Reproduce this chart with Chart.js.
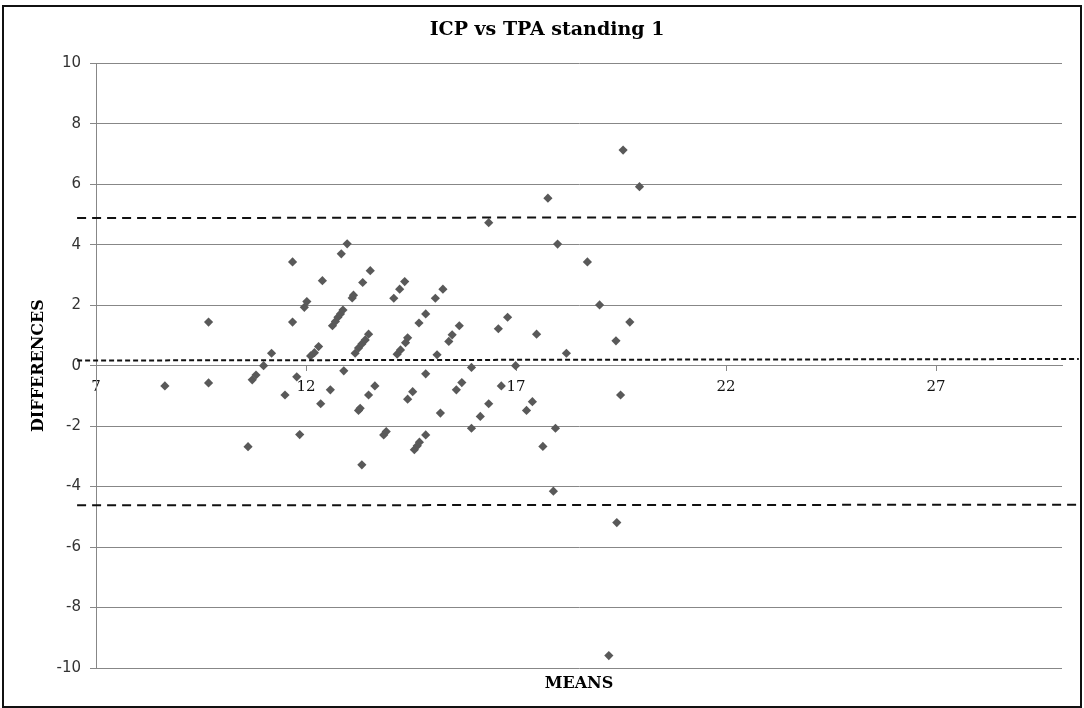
<!DOCTYPE html>
<html><head><meta charset="utf-8">
<script src="https://cdn.jsdelivr.net/npm/chart.js@4.4.1/dist/chart.umd.min.js"></script>
<style>html,body{margin:0;padding:0;background:#fff;} #wrap{position:relative;width:1084px;height:708px;}</style>
</head><body><div id="wrap"><canvas id="c" width="1084" height="708"></canvas></div>
<script>
const chartTitle = 'ICP vs TPA standing 1';
const xAxisTitle = 'MEANS';
const yAxisTitle = 'DIFFERENCES';

const means = [8.64, 9.68, 9.68, 10.62, 10.72, 10.81, 10.99, 11.18, 11.5, 11.68,
  11.68, 11.78, 11.85, 11.96, 12.02, 12.11, 12.2, 12.3, 12.35, 12.39,
  12.58, 12.63, 12.7, 12.76, 12.82, 12.88, 12.84, 12.98, 12.9, 13.1,
  13.13, 13.35, 13.53, 13.17, 13.25, 13.33, 13.41, 13.49, 13.25, 13.29,
  13.33, 13.49, 13.64, 13.85, 13.91, 14.09, 14.23, 14.35, 14.17, 14.25,
  14.37, 14.42, 14.42, 14.54, 14.58, 14.65, 14.7, 14.85, 14.69, 14.85,
  14.85, 15.08, 15.26, 15.12, 15.2, 15.4, 15.48, 15.65, 15.58, 15.71,
  15.94, 15.94, 16.15, 16.35, 16.35, 16.58, 16.8, 16.65, 16.99, 17.25,
  17.39, 17.49, 17.64, 17.76, 17.94, 17.89, 17.99, 18.2, 18.7, 18.99,
  19.38, 19.4, 19.21, 19.49, 19.55, 19.71, 19.94];
const differences = [-0.67, 1.44, -0.57, -2.68, -0.47, -0.31, 0.0, 0.41, -0.97, 3.43,
  1.44, -0.37, -2.28, 1.93, 2.12, 0.32, 0.43, 0.63, -1.26, 2.81,
  -0.8, 1.32, 1.46, 1.6, 1.71, 1.84, 3.7, 4.03, -0.17, 2.24,
  2.33, 2.75, 3.14, 0.41, 0.58, 0.72, 0.85, 1.04, -1.48, -1.41,
  -3.28, -0.97, -0.67, -2.29, -2.18, 2.23, 2.53, 2.78, 0.38, 0.52,
  0.76, 0.92, -1.11, -0.86, -2.78, -2.65, -2.53, -2.29, 1.41, 1.71,
  -0.27, 2.23, 2.53, 0.36, -1.57, 0.8, 1.02, 1.32, -0.8, -0.56,
  -0.06, -2.07, -1.68, -1.26, 4.73, 1.22, 1.6, -0.67, 0.0, -1.48,
  -1.19, 1.04, -2.67, 5.54, -2.07, -4.15, 4.02, 0.41, 3.43, 2.01,
  0.82, -5.19, -9.59, -0.97, 7.13, 1.44, 5.92];

const xTickValues = [7, 12, 17, 22, 27];
const xRange = [7, 30];
const yRange = [-10, 10];
const yStep = 2;

const limitSpanX = [6.55, 30.4];
const upperLimit = [4.88, 4.92];
const meanLine = [0.17, 0.22];
const lowerLimit = [-4.62, -4.6];

const toPts = (xs, ys) => xs.map((x, i) => ({x: x, y: ys[i]}));

const extrasPlugin = {
  id: 'extras',
  beforeDraw(chart) {
    const ctx = chart.ctx;
    ctx.save();
    ctx.fillStyle = '#ffffff';
    ctx.fillRect(0, 0, chart.width, chart.height);
    ctx.restore();
  },
  afterDraw(chart) {
    const ctx = chart.ctx;
    const a = chart.chartArea;
    ctx.save();
    ctx.font = 'bold 16px "DejaVu Serif"';
    ctx.fillStyle = '#000';
    ctx.textAlign = 'center';
    ctx.textBaseline = 'middle';
    ctx.fillText(xAxisTitle, (a.left + a.right) / 2, 684);
    ctx.strokeStyle = '#111';
    ctx.lineWidth = 2;
    ctx.strokeRect(3, 6, 1078, 701);
    ctx.restore();
  }
};

const dashed = (data, dash) => ({
  type: 'scatter',
  data: data,
  showLine: true,
  borderColor: '#111111',
  borderWidth: 2,
  borderDash: dash,
  pointRadius: 0,
  clip: false,
  order: 0
});

new Chart(document.getElementById('c'), {
  type: 'scatter',
  data: {
    datasets: [
      {
        data: toPts(means, differences),
        pointStyle: 'rectRot',
        pointRadius: 4.6,
        borderWidth: 0,
        backgroundColor: '#595959',
        borderColor: '#595959',
        order: 1
      },
      dashed(toPts(limitSpanX, upperLimit), [9, 6]),
      dashed(toPts(limitSpanX, meanLine), [5, 3]),
      dashed(toPts(limitSpanX, lowerLimit), [9, 6])
    ]
  },
  options: {
    responsive: false,
    animation: false,
    devicePixelRatio: 1,
    layout: {padding: {left: 32, right: 22, top: 0, bottom: 40}},
    plugins: {
      legend: {display: false},
      tooltip: {enabled: false},
      title: {
        display: true,
        text: chartTitle,
        color: '#000',
        font: {family: '"DejaVu Serif"', size: 19, weight: 'bold', lineHeight: 1.2},
        padding: {top: 18.6, bottom: 21.9}
      }
    },
    scales: {
      x: {
        type: 'linear',
        position: {y: 0},
        min: xRange[0],
        max: xRange[1],
        afterBuildTicks: (s) => { s.ticks = xTickValues.map(v => ({value: v})); },
        grid: {display: true, drawOnChartArea: false, drawTicks: true, tickLength: 5, color: '#878787'},
        border: {display: true, color: '#878787', width: 1},
        ticks: {
          color: '#111',
          font: {family: '"DejaVu Serif"', size: 15},
          padding: 7,
          maxRotation: 0,
          autoSkip: false
        }
      },
      y: {
        type: 'linear',
        min: yRange[0],
        max: yRange[1],
        afterFit: (s) => { s.width = 64; },
        grid: {color: '#878787', lineWidth: 1, tickLength: 6},
        border: {display: true, color: '#878787', width: 1},
        ticks: {
          stepSize: yStep,
          color: '#333',
          font: {family: '"DejaVu Sans"', size: 15},
          padding: 9
        },
        title: {
          display: true,
          text: yAxisTitle,
          color: '#000',
          font: {family: '"DejaVu Serif"', size: 16, weight: 'bold', lineHeight: 1.2},
          padding: {top: -2.6, bottom: 0}
        }
      }
    }
  },
  plugins: [extrasPlugin]
});
</script>
</body></html>
